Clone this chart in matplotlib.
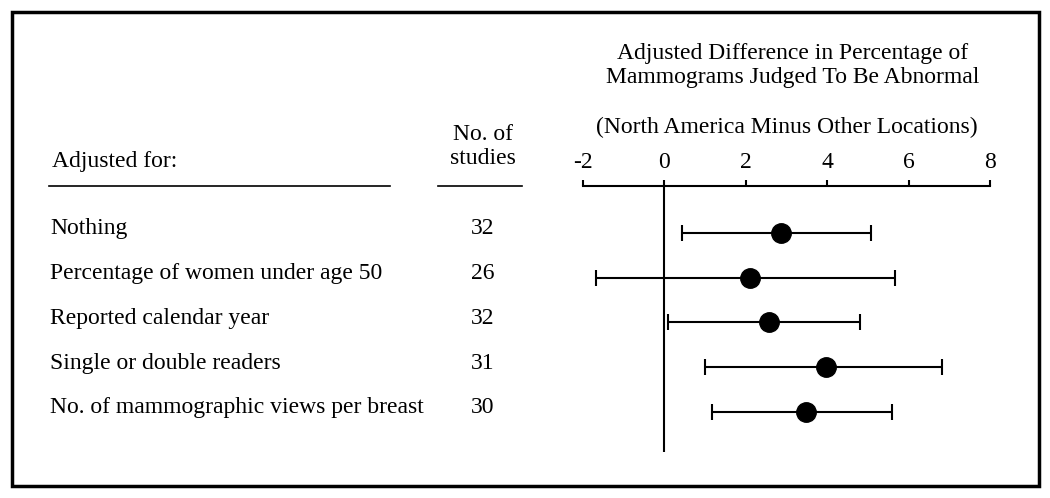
import matplotlib
matplotlib.use("Agg")
import matplotlib.pyplot as plt
from matplotlib.patches import Rectangle
from matplotlib.lines import Line2D

labels = ["Nothing",
          "Percentage of women under age 50",
          "Reported calendar year",
          "Single or double readers",
          "No. of mammographic views per breast"]
n_studies = [32, 26, 32, 31, 30]
est = [2.87, 2.11, 2.58, 3.98, 3.48]
lo = [0.44, -1.67, 0.10, 1.00, 1.18]
hi = [5.08, 5.67, 4.81, 6.83, 5.60]
xticks = [-2, 0, 2, 4, 6, 8]

W, H = 1050, 498
plt.rcParams['font.family'] = ['Liberation Serif', 'DejaVu Serif']
fig = plt.figure(figsize=(W / 100, H / 100), dpi=100)


def fx(px):
    return px / W


def fy(py):
    return 1 - py / H


# forest plot axes: x -2..8 spans px 583..990, y spans px 186..452
ax = fig.add_axes([fx(583), fy(452), fx(990 - 583), (452 - 186) / H])
ax.set_xlim(-2, 8)
ax.set_ylim(4.894, -1.05)
for s in ["left", "right", "bottom"]:
    ax.spines[s].set_visible(False)
ax.spines["top"].set_linewidth(1.5)
ax.xaxis.tick_top()
ax.set_xticks(xticks)
ax.set_xticklabels([str(t) for t in xticks])
ax.tick_params(axis="x", direction="out", length=4, width=1.5, labelsize=17, pad=5)
ax.set_yticks([])
ax.axvline(0, color="black", lw=1.5)

rows = list(range(len(labels)))
xerr = [[e - l for e, l in zip(est, lo)], [h - e for e, h in zip(est, hi)]]
ax.errorbar(est, rows, xerr=xerr, fmt="o", color="black", ms=14,
            elinewidth=1.5, capsize=6, capthick=1.5)

fs = 17
# titles
fig.text(fx(793), fy(54), "Adjusted Difference in Percentage of", ha="center", va="center", fontsize=fs)
fig.text(fx(793), fy(78), "Mammograms Judged To Be Abnormal", ha="center", va="center", fontsize=fs)
fig.text(fx(787), fy(127), "(North America Minus Other Locations)", ha="center", va="center", fontsize=fs)
fig.text(fx(483), fy(134), "No. of", ha="center", va="center", fontsize=fs)
fig.text(fx(483), fy(158), "studies", ha="center", va="center", fontsize=fs)
fig.text(fx(52), fy(161), "Adjusted for:", ha="left", va="center", fontsize=fs)

# header underlines
fig.add_artist(Line2D([fx(49), fx(390)], [fy(186), fy(186)], color="black", lw=1.2))
fig.add_artist(Line2D([fx(438), fx(522)], [fy(186), fy(186)], color="black", lw=1.2))

# row labels and counts, positioned on the plot's row scale
for i, (lab, n) in enumerate(zip(labels, n_studies)):
    yfig = ax.transData.transform((0, i))[1] / fig.bbox.height + 4 / H
    fig.text(fx(50), yfig, lab, ha="left", va="center", fontsize=fs)
    fig.text(fx(483), yfig, str(n), ha="center", va="center", fontsize=fs)

# outer frame
fig.add_artist(Rectangle((fx(12), fy(486)), fx(1039 - 12), (486 - 12) / H,
                         fill=False, lw=2.5, edgecolor="black"))

fig.savefig("out.png", dpi=100)
